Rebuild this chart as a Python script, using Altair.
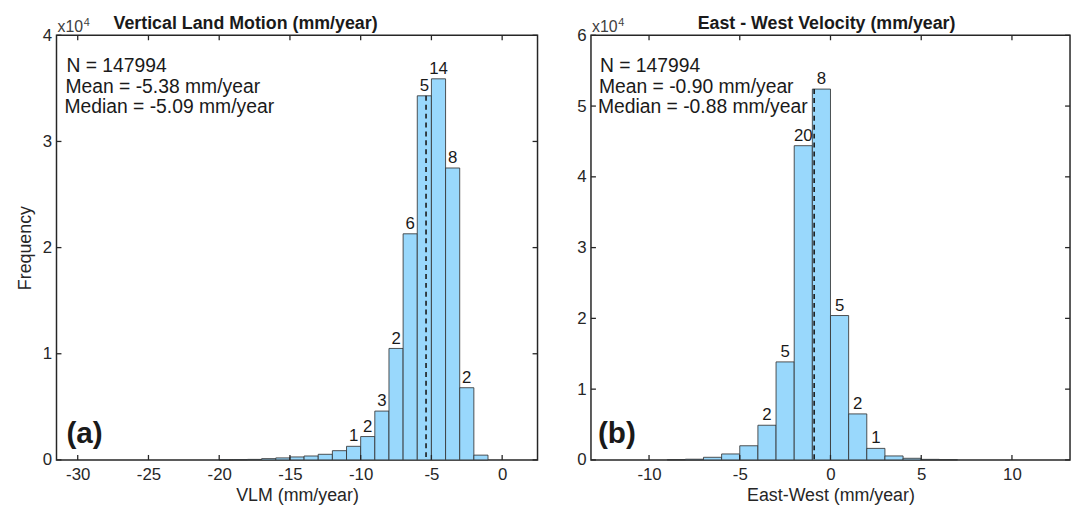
import altair as alt
import pandas as pd

# ---------------- data ----------------
# Panel (a): Vertical Land Motion, 1 mm/yr bins, frequency in units of 1e4
vlm_bin_start = [-20, -19, -18, -17, -16, -15, -14, -13, -12, -11, -10, -9, -8, -7, -6, -5, -4, -3, -2]
vlm_freq = [0.001, 0.002, 0.005, 0.012, 0.019, 0.028, 0.037, 0.053, 0.087, 0.128,
            0.22, 0.46, 1.05, 2.13, 3.43, 3.59, 2.75, 0.68, 0.045]
vlm_labels = ["", "", "", "", "", "", "", "", "", "1", "2", "3", "2", "6", "5", "14", "8", "2", ""]
vlm_stats = ["N = 147994", "Mean = -5.38 mm/year", "Median = -5.09 mm/year"]
vlm_mean = -5.38
vlm_xticks = [-30, -25, -20, -15, -10, -5, 0]
vlm_yticks = [0, 1, 2, 3, 4]

# Panel (b): East-West velocity
ew_bin_start = [-9, -8, -7, -6, -5, -4, -3, -2, -1, 0, 1, 2, 3, 4, 5, 6]
ew_freq = [0.004, 0.01, 0.037, 0.084, 0.20, 0.49, 1.385, 4.44, 5.24, 2.04,
           0.65, 0.163, 0.056, 0.023, 0.008, 0.004]
ew_labels = ["", "", "", "", "", "2", "5", "20", "8", "5", "2", "1", "", "", "", ""]
ew_stats = ["N = 147994", "Mean = -0.90 mm/year", "Median = -0.88 mm/year"]
ew_mean = -0.90
ew_xticks = [-10, -5, 0, 5, 10]
ew_yticks = [0, 1, 2, 3, 4, 5, 6]

BAR = "#99D8FC"
EDGE = "#333333"
INK = "#262626"
FONT = "Liberation Sans"


def panel(bins, freq, labels, stats, mean, xdom, xticks, ymax, yticks,
          title, title_dx, xtitle, ytitle, tag, tag_dx, stat_dx, W, H):
    df = pd.DataFrame({"x": bins, "y": freq, "lab": labels})
    df["x2"] = df["x"] + 1
    df["xc"] = df["x"] + 0.5
    df["y0"] = 0.0

    xs = alt.Scale(domain=xdom, nice=False, zero=False)
    ys = alt.Scale(domain=[0, ymax], nice=False, zero=True)

    yaxis_kw = dict(values=yticks, ticks=False, domain=False, grid=False,
                    labelPadding=5, labelFontSize=17, labelFont=FONT, labelColor=INK,
                    labelExpr="'' + datum.value")
    if ytitle:
        yaxis_kw.update(title=ytitle, titleFontSize=18, titleFont=FONT, titleColor=INK,
                        titleFontWeight="normal", titlePadding=8)
    else:
        yaxis_kw.update(title=None)

    bars = alt.Chart(df).mark_rect(fill=BAR, stroke=EDGE, strokeWidth=1, strokeOpacity=0.85).encode(
        x=alt.X("x:Q", scale=xs, axis=alt.Axis(
            values=xticks, title=xtitle, ticks=False, domain=False, grid=False,
            labelPadding=7, labelFontSize=17, labelFont=FONT, labelColor=INK,
            labelExpr="'' + datum.value",
            titleFontSize=18, titleFont=FONT, titleColor=INK, titleFontWeight="normal",
            titlePadding=4)),
        x2="x2:Q",
        y=alt.Y("y:Q", scale=ys, axis=alt.Axis(**yaxis_kw)),
        y2="y0:Q",
    )

    texts = alt.Chart(df).transform_filter("datum.lab != ''").mark_text(
        baseline="bottom", dy=-1, fontSize=17, font=FONT, color="#1a1a1a"
    ).encode(x=alt.X("xc:Q", title=xtitle), y=alt.Y("y:Q", title=ytitle), text="lab:N")

    # dashed mean line up to the top of the bin that holds it
    top = [f for b, f in zip(bins, freq) if b <= mean < b + 1][0]
    mdf = pd.DataFrame({"x": [mean], "y": [top], "y0": [0.0]})
    mline = alt.Chart(mdf).mark_rule(strokeDash=[5, 4], strokeWidth=1.6, color="#1a1a1a").encode(
        x=alt.X("x:Q", title=xtitle), y=alt.Y("y:Q", title=ytitle), y2="y0:Q")

    # inside tick marks on all four sides
    xt = pd.DataFrame({"x": xticks})
    yt = pd.DataFrame({"y": yticks})
    tk = dict(color=INK, strokeWidth=1.3)
    tb = alt.Chart(xt).mark_rule(**tk).encode(x=alt.X("x:Q", title=xtitle), y=alt.value(H), y2=alt.value(H - 5))
    tt = alt.Chart(xt).mark_rule(**tk).encode(x=alt.X("x:Q", title=xtitle), y=alt.value(0), y2=alt.value(5))
    tl = alt.Chart(yt).mark_rule(**tk).encode(y=alt.Y("y:Q", title=ytitle), x=alt.value(0), x2=alt.value(5))
    tr = alt.Chart(yt).mark_rule(**tk).encode(y=alt.Y("y:Q", title=ytitle), x=alt.value(W), x2=alt.value(W - 5))

    layers = [bars, mline, texts, tb, tt, tl, tr]

    # statistics text
    for i, s in enumerate(stats):
        layers.append(alt.Chart(pd.DataFrame({"t": [s]})).mark_text(
            align="left", baseline="alphabetic", fontSize=19.5, font=FONT, color="#1a1a1a"
        ).encode(x=alt.value(stat_dx - i), y=alt.value(37 + 21 * i), text="t:N"))

    # panel tag
    layers.append(alt.Chart(pd.DataFrame({"t": [tag]})).mark_text(
        align="left", baseline="alphabetic", fontSize=30, font=FONT, fontWeight="bold", color="#1a1a1a"
    ).encode(x=alt.value(tag_dx), y=alt.value(H - 17), text="t:N"))

    # axis exponent x10^4
    layers.append(alt.Chart(pd.DataFrame({"t": ["x10"]})).mark_text(
        align="left", baseline="alphabetic", fontSize=16, font=FONT, color="#404040"
    ).encode(x=alt.value(1), y=alt.value(-3), text="t:N"))
    layers.append(alt.Chart(pd.DataFrame({"t": ["4"]})).mark_text(
        align="left", baseline="alphabetic", fontSize=11, font=FONT, color="#404040"
    ).encode(x=alt.value(27.5), y=alt.value(-9), text="t:N"))

    # panel title
    layers.append(alt.Chart(pd.DataFrame({"t": [title]})).mark_text(
        align="center", baseline="alphabetic", fontSize=18, font=FONT, fontWeight="bold", color="#1a1a1a"
    ).encode(x=alt.value(W / 2 + title_dx), y=alt.value(-6), text="t:N"))

    return alt.layer(*layers).properties(width=W, height=H)


left = panel(vlm_bin_start, vlm_freq, vlm_labels, vlm_stats, vlm_mean, [-31.5, 2.5],
             vlm_xticks, 4, vlm_yticks, "Vertical Land Motion (mm/year)", -52,
             "VLM (mm/year)", "Frequency", "(a)", 10, 10, 486, 429)
right = panel(ew_bin_start, ew_freq, ew_labels, ew_stats, ew_mean, [-13.2, 13.2],
              ew_xticks, 6, ew_yticks, "East - West Velocity (mm/year)", -4,
              "East-West (mm/year)", None, "(b)", 7, 9, 484, 429)

chart = alt.hconcat(left, right, spacing=36).properties(
    padding={"left": 7, "top": 4, "right": 0, "bottom": 0}
).configure_view(stroke=INK, strokeWidth=1.5)

chart.save("out.html", embed_options={"renderer": "svg", "actions": False})
